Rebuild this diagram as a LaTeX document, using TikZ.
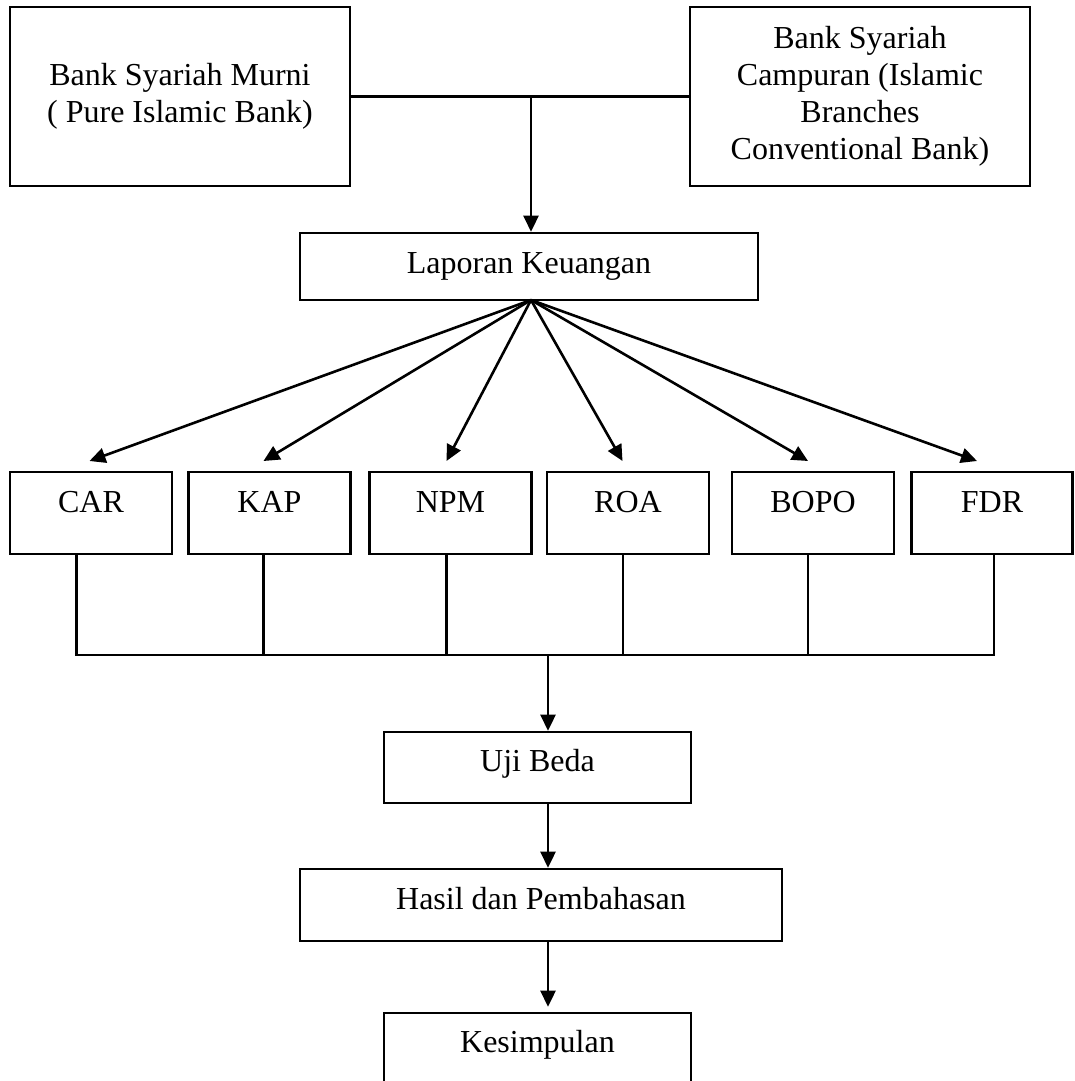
\documentclass[tikz,border=0pt]{standalone}
\usepackage{fontspec}
\setmainfont{Liberation Serif}
\usetikzlibrary{arrows.meta}
\begin{document}
\begin{tikzpicture}[x=1pt,y=-1pt,
  box/.style={draw, line width=2.6pt, inner sep=0pt, anchor=center},
  big/.style={font=\fontsize{32}{37}\selectfont},
  txt/.style={inner sep=0pt, anchor=base, font=\fontsize{32}{37}\selectfont},
  arr/.style={line width=2.6pt, -{Triangle[length=16pt,width=15pt]}},
  con/.style={line width=2.2pt}]
\useasboundingbox (0,0) rectangle (1074,1081);
\clip (0,0) rectangle (1074,1081);
\fill[white] (0,0) rectangle (1074,1081);

% top boxes
\node[box, big, align=center, minimum width=340pt, minimum height=179pt] (tl) at (180,96.5)
  {Bank Syariah Murni\\( Pure Islamic Bank)};
\node[box, big, align=center, minimum width=340pt, minimum height=179pt] (tr) at (860,96.5)
  {Bank Syariah\\Campuran (Islamic\\Branches\\Conventional Bank)};

% laporan
\node[box, minimum width=458pt, minimum height=67pt] (lap) at (529,266.5) {};
\node[txt] (lapT) at (529,273) {Laporan Keuangan};

% six ratio boxes
\node[box, minimum width=162pt, minimum height=82pt] (car) at (91,513) {};
\node[box, minimum width=162pt, minimum height=82pt] (kap) at (269.5,513) {};
\node[box, minimum width=162pt, minimum height=82pt] (npm) at (450.5,513) {};
\node[box, minimum width=162pt, minimum height=82pt] (roa) at (628,513) {};
\node[box, minimum width=162pt, minimum height=82pt] (bopo) at (813,513) {};
\node[box, minimum width=161pt, minimum height=82pt] (fdr) at (992,513) {};
\node[txt] (carT) at (91,512) {CAR};
\node[txt] (kapT) at (269.5,512) {KAP};
\node[txt] (npmT) at (450.5,512) {NPM};
\node[txt] (roaT) at (628,512) {ROA};
\node[txt] (bopoT) at (813,512) {BOPO};
\node[txt] (fdrT) at (992,512) {FDR};

% lower boxes
\node[box, minimum width=307pt, minimum height=71pt] (uji) at (537.5,767.5) {};
\node[txt] (ujiT) at (537.5,771) {Uji Beda};
\node[box, minimum width=482pt, minimum height=72pt] (has) at (541,905) {};
\node[txt] (hasT) at (541,909) {Hasil dan Pembahasan};
\node[box, minimum width=307pt, minimum height=77pt] (kes) at (537.5,1051.5) {};
\node[txt] (kesT) at (537.5,1052) {Kesimpulan};

% top connector
\coordinate (j1) at (531,96.5);
\draw[con] (tl.east) -- (tr.west);
\draw[arr] (j1) -- (j1 |- lap.north);

% fan arrows
\coordinate (lapS) at (531,300);
\coordinate (tCAR) at (89.5,461);
\coordinate (tKAP) at (263.5,461);
\coordinate (tNPM) at (446.5,461);
\coordinate (tROA) at (622.5,461);
\coordinate (tBOPO) at (808,461);
\coordinate (tFDR) at (977,461);
\foreach \t in {tCAR,tKAP,tNPM,tROA,tBOPO,tFDR}
  \draw[arr] (lapS) -- (\t);

% bus below ratio boxes
\coordinate (b1) at (76.5,655);
\coordinate (b2) at (263.5,655);
\coordinate (b3) at (446.5,655);
\coordinate (b4) at (623,655);
\coordinate (b5) at (808,655);
\coordinate (b6) at (994,655);
\draw[con] (b1 |- car.south) -- (b1) -- (b6) -- (b6 |- fdr.south);
\draw[con] (b2 |- kap.south) -- (b2);
\draw[con] (b3 |- npm.south) -- (b3);
\draw[con] (b4 |- roa.south) -- (b4);
\draw[con] (b5 |- bopo.south) -- (b5);

% down arrows
\coordinate (j2) at (548,655);
\draw[arr] (j2) -- (j2 |- uji.north);
\draw[arr] (uji.south -| j2) -- (has.north -| j2);
\draw[arr, shorten >=5pt] (has.south -| j2) -- (kes.north -| j2);
\end{tikzpicture}
\end{document}
